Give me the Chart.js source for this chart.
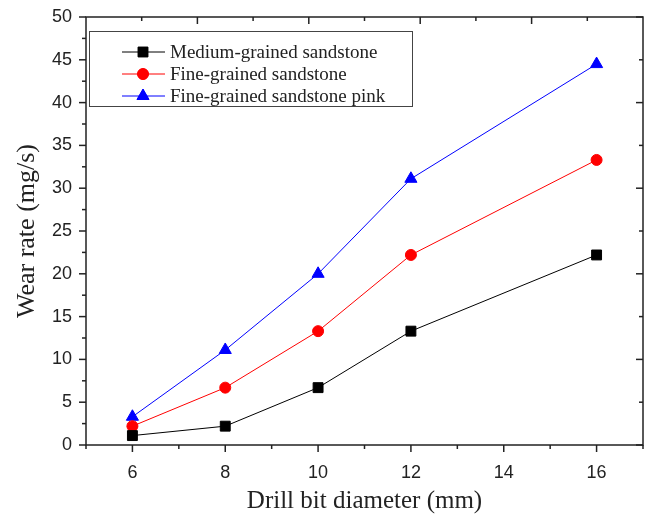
<!DOCTYPE html>
<html>
<head>
<meta charset="utf-8">
<script src="https://cdn.jsdelivr.net/npm/chart.js@4.4.1/dist/chart.umd.min.js"></script>
<style>
  html, body { margin: 0; padding: 0; background: #fff; }
  #wrap { width: 646px; height: 516px; }
</style>
</head>
<body>
<div id="wrap"><canvas id="myChart"></canvas></div>
<script>
const diameters = [6, 8, 10, 12, 16]
const medium = [1.1, 2.2, 6.7, 13.3, 22.2]
const fine = [2.2, 6.7, 13.3, 22.2, 33.3]
const finePink = [3.3, 11.1, 20.0, 31.1, 44.5]
const xTicks = [6, 8, 10, 12, 14, 16]
const yTicks = [0, 5, 10, 15, 20, 25, 30, 35, 40, 45, 50]
const seriesNames = ['Medium-grained sandstone', 'Fine-grained sandstone', 'Fine-grained sandstone pink']

const ink = '#222'

function pts(vals){
    return vals.map((v, i) => ({x: diameters[i], y: v}))
}

function tick(ctx, x1, y1, x2, y2){
    ctx.beginPath()
    ctx.moveTo(x1, y1)
    ctx.lineTo(x2, y2)
    ctx.stroke()
}

// frame with origin-style tick marks
const framePlugin = {
    id: 'frame',
    afterDraw(chart){
        const {ctx, chartArea: a, scales: {x, y}} = chart
        ctx.save()
        ctx.strokeStyle = ink
        ctx.lineWidth = 1.5
        ctx.strokeRect(a.left, a.top, a.right - a.left, a.bottom - a.top)
        for (let v = 0; v <= 50; v += 2.5) {
            const py = y.getPixelForValue(v)
            const major = v % 5 === 0
            tick(ctx, a.left, py, a.left - (major ? 7 : 4), py)
            if (v % 5 === 0) {
                const m10 = v % 10 === 0
                tick(ctx, a.right, py, a.right - (m10 ? 7 : 4), py)
            }
        }
        for (let v = 5; v <= 17; v++) {
            const px = x.getPixelForValue(v)
            tick(ctx, px, a.bottom, px, a.bottom + (v % 2 === 0 ? 7 : 4))
        }
        for (let k = 1; k < 10; k++) {
            const px = a.left + (a.right - a.left) * k / 10
            tick(ctx, px, a.top, px, a.top + (k % 2 === 0 ? 7 : 4))
        }
        ctx.restore()
    }
}

// legend box inside the plot, top-left
const legendPlugin = {
    id: 'boxLegend',
    afterDraw(chart){
        const {ctx, chartArea: a} = chart
        const bx = a.left + 3, by = a.top + 14, bw = 323, bh = 75
        ctx.save()
        ctx.fillStyle = '#fff'
        ctx.fillRect(bx, by, bw, bh)
        ctx.strokeStyle = '#444'
        ctx.lineWidth = 1
        ctx.strokeRect(bx + 0.5, by + 0.5, bw, bh)
        chart.data.datasets.forEach((ds, i) => {
            const ry = by + 21 + i * 22
            ctx.strokeStyle = ds.borderColor
            ctx.lineWidth = 1
            tick(ctx, bx + 33, ry, bx + 76, ry)
            ctx.fillStyle = ds.backgroundColor
            Chart.helpers.drawPoint(ctx, {pointStyle: ds.pointStyle, radius: ds.pointRadius, rotation: 0, borderWidth: 1}, bx + 54, ry)
            ctx.fill()
            ctx.fillStyle = ink
            ctx.font = '19px "Liberation Serif", "Times New Roman", serif'
            ctx.textBaseline = 'middle'
            ctx.fillText(ds.label, bx + 81, ry + 1)
        })
        ctx.restore()
    }
}

const ctx = document.getElementById('myChart')
const myChart = new Chart(ctx, {
    type: 'line',
    data: {
        datasets: [
            {
                label: seriesNames[0],
                data: pts(medium),
                borderColor: '#000',
                backgroundColor: '#000',
                pointStyle: 'rect',
                pointRadius: 7,
                borderWidth: 1,
            },
            {
                label: seriesNames[1],
                data: pts(fine),
                borderColor: '#ff0000',
                backgroundColor: '#ff0000',
                pointStyle: 'circle',
                pointRadius: 5.5,
                borderWidth: 1,
            },
            {
                label: seriesNames[2],
                data: pts(finePink),
                borderColor: '#0000ff',
                backgroundColor: '#0000ff',
                pointStyle: 'triangle',
                pointRadius: 7,
                borderWidth: 1,
            }
        ]
    },
    options: {
        responsive: true,
        maintainAspectRatio: false,
        animation: false,
        layout: {
            autoPadding: false,
            padding: {top: 17, right: 3, left: 0, bottom: 0}
        },
        plugins: {
            legend: {display: false},
            tooltip: {enabled: false},
        },
        scales: {
            x: {
                type: 'linear',
                min: 5,
                max: 17,
                afterBuildTicks: axis => { axis.ticks = xTicks.map(v => ({value: v})) },
                afterFit: axis => {
                    axis.height = 71
                    axis.paddingLeft = 0
                    axis.paddingRight = 0
                },
                grid: {display: false, drawTicks: false},
                border: {display: false},
                ticks: {
                    color: ink,
                    padding: 17,
                    font: {family: '"Liberation Sans", Arial, sans-serif', size: 18},
                },
                title: {
                    display: true,
                    text: 'Drill bit diameter (mm)',
                    color: ink,
                    padding: {top: 0, bottom: 2},
                    font: {family: '"Liberation Serif", "Times New Roman", serif', size: 25, lineHeight: 1},
                },
            },
            y: {
                min: 0,
                max: 50,
                afterBuildTicks: axis => { axis.ticks = yTicks.map(v => ({value: v})) },
                afterFit: axis => {
                    axis.width = 86
                    axis.paddingTop = 0
                    axis.paddingBottom = 0
                },
                grid: {display: false, drawTicks: false},
                border: {display: false},
                ticks: {
                    color: ink,
                    padding: 14,
                    font: {family: '"Liberation Sans", Arial, sans-serif', size: 18},
                },
                title: {
                    display: true,
                    text: 'Wear rate (mg/s)',
                    color: ink,
                    padding: {top: 12, bottom: 0},
                    font: {family: '"Liberation Serif", "Times New Roman", serif', size: 26, lineHeight: 1.2},
                },
            }
        }
    },
    plugins: [framePlugin, legendPlugin]
})
</script>
</body>
</html>
